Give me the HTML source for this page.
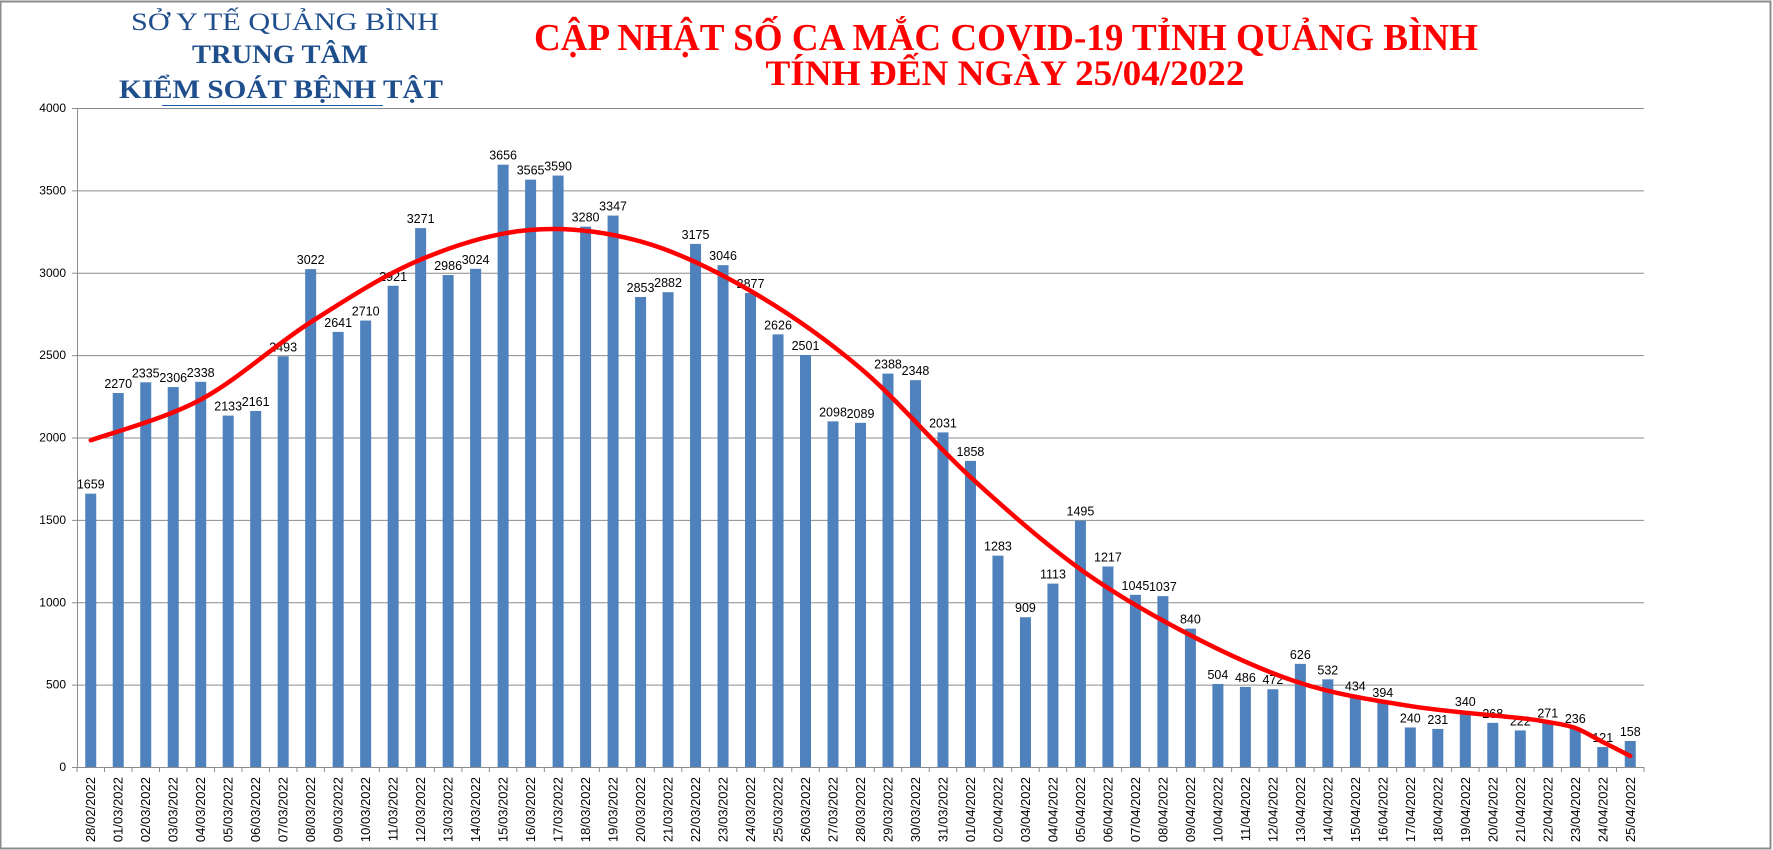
<!DOCTYPE html>
<html><head><meta charset="utf-8">
<style>
html,body{margin:0;padding:0;background:#fff;}
svg{display:block;}
</style></head>
<body>
<svg id="chart" width="1773" height="850" xmlns="http://www.w3.org/2000/svg">
<rect x="0.5" y="1.5" width="1770" height="847" fill="#fff" stroke="#8c8c8c" stroke-width="2"/>
<g fill="#1f4e8c" font-family="'Liberation Serif', serif" text-anchor="middle">
<text x="285" y="30" font-size="25" textLength="308" lengthAdjust="spacingAndGlyphs">SỞ Y TẾ QUẢNG BÌNH</text>
<text x="280" y="63" font-size="26" font-weight="bold" textLength="176" lengthAdjust="spacingAndGlyphs">TRUNG TÂM</text>
<text x="281" y="98" font-size="26" font-weight="bold" textLength="324" lengthAdjust="spacingAndGlyphs">KIỂM SOÁT BỆNH TẬT</text>
<line x1="162" y1="105.5" x2="383" y2="105.5" stroke="#1f5fa8" stroke-width="1"/>
</g>
<g fill="#ff0000" font-family="'Liberation Serif', serif" font-weight="bold" text-anchor="middle">
<text x="1006" y="50" font-size="38" textLength="944" lengthAdjust="spacingAndGlyphs">CẬP NHẬT SỐ CA MẮC COVID-19 TỈNH QUẢNG BÌNH</text>
<text x="1005" y="85" font-size="36" textLength="479" lengthAdjust="spacingAndGlyphs">TÍNH ĐẾN NGÀY 25/04/2022</text>
</g>
<g id="grid"></g>
<g id="bars"></g>
<g id="labels"></g>
<g id="trend"></g>
</svg>
<script>
const categories = ["28/02/2022","01/03/2022","02/03/2022","03/03/2022","04/03/2022","05/03/2022","06/03/2022","07/03/2022","08/03/2022","09/03/2022","10/03/2022","11/03/2022","12/03/2022","13/03/2022","14/03/2022","15/03/2022","16/03/2022","17/03/2022","18/03/2022","19/03/2022","20/03/2022","21/03/2022","22/03/2022","23/03/2022","24/03/2022","25/03/2022","26/03/2022","27/03/2022","28/03/2022","29/03/2022","30/03/2022","31/03/2022","01/04/2022","02/04/2022","03/04/2022","04/04/2022","05/04/2022","06/04/2022","07/04/2022","08/04/2022","09/04/2022","10/04/2022","11/04/2022","12/04/2022","13/04/2022","14/04/2022","15/04/2022","16/04/2022","17/04/2022","18/04/2022","19/04/2022","20/04/2022","21/04/2022","22/04/2022","23/04/2022","24/04/2022","25/04/2022"];
const cases = [1659,2270,2335,2306,2338,2133,2161,2493,3022,2641,2710,2921,3271,2986,3024,3656,3565,3590,3280,3347,2853,2882,3175,3046,2877,2626,2501,2098,2089,2388,2348,2031,1858,1283,909,1113,1495,1217,1045,1037,840,504,486,472,626,532,434,394,240,231,340,268,222,271,236,121,158];
const yTicks = [0,500,1000,1500,2000,2500,3000,3500,4000];
const trendIdx = [0,4,8,12,16,20,24,28,32,36,40,44,48,52,53,54,55,56];
const trendVal = [1983,2230,2700,3080,3260,3190,2890,2420,1760,1200,800,510,370,297,273,237,152,67];

const NS="http://www.w3.org/2000/svg";
const X0=77,X1=1644,Y0=767,Y1=108,YMAX=4000;
const step=(X1-X0)/categories.length;
const xc=i=>X0+step*(i+0.5);
const y=v=>Y0-(v/YMAX)*(Y0-Y1);
function mk(tag,attrs,parent){const e=document.createElementNS(NS,tag);for(const k in attrs)e.setAttribute(k,attrs[k]);parent.appendChild(e);return e;}
const grid=document.getElementById('grid'),bars=document.getElementById('bars'),labels=document.getElementById('labels'),trend=document.getElementById('trend');

yTicks.forEach(t=>{
  const l=mk('line',{x1:X0-5,x2:X1,y1:y(t)+0.5,y2:y(t)+0.5,stroke:'#8c8c8c','stroke-width':1},grid);
  
  
  const tx=mk('text',{x:X0-11,y:y(t)+4,'font-size':12,'font-family':"'Liberation Sans',sans-serif",'text-anchor':'end',fill:'#000'},grid);
  tx.textContent=t;
  
  
});
const ax=mk('line',{x1:X0+0.5,x2:X0+0.5,y1:Y1,y2:Y0,stroke:'#8c8c8c','stroke-width':1},grid);


for(let i=0;i<=categories.length;i++){
  const tk=mk('line',{x1:X0+step*i,x2:X0+step*i,y1:Y0,y2:Y0+5,stroke:'#8c8c8c','stroke-width':1},grid);
  
  
}
categories.forEach((c,i)=>{
  const v=cases[i];
  const r=mk('rect',{x:xc(i)-5.5,y:y(v),width:11,height:Y0-y(v),fill:'#4f81bd'},bars);
  
  
  const vl=mk('text',{x:xc(i),y:y(v)-5,'font-size':12.5,'font-family':"'Liberation Sans',sans-serif",'text-anchor':'middle',fill:'#000'},labels);
  vl.textContent=v;
  
  
  const xl=mk('text',{x:0,y:0,'font-size':13,'font-family':"'Liberation Sans',sans-serif",'text-anchor':'end',fill:'#000',transform:`translate(${xc(i)+4.5},${Y0+10}) rotate(-90)`},labels);
  xl.textContent=c;
  
  
});
// Catmull-Rom smooth trend line
const pts=trendIdx.map((k,j)=>[xc(k),y(trendVal[j])]);
let d=`M${pts[0][0]},${pts[0][1]}`;
for(let j=0;j<pts.length-1;j++){
  const p0=pts[Math.max(0,j-1)],p1=pts[j],p2=pts[j+1],p3=pts[Math.min(pts.length-1,j+2)];
  const c1=[p1[0]+(p2[0]-p0[0])/6,p1[1]+(p2[1]-p0[1])/6];
  const c2=[p2[0]-(p3[0]-p1[0])/6,p2[1]-(p3[1]-p1[1])/6];
  d+=` C${c1[0]},${c1[1]} ${c2[0]},${c2[1]} ${p2[0]},${p2[1]}`;
}
const tp=mk('path',{d:d,fill:'none',stroke:'#ff0000','stroke-width':4.5,'stroke-linecap':'round'},trend);


</script>
</body></html>
